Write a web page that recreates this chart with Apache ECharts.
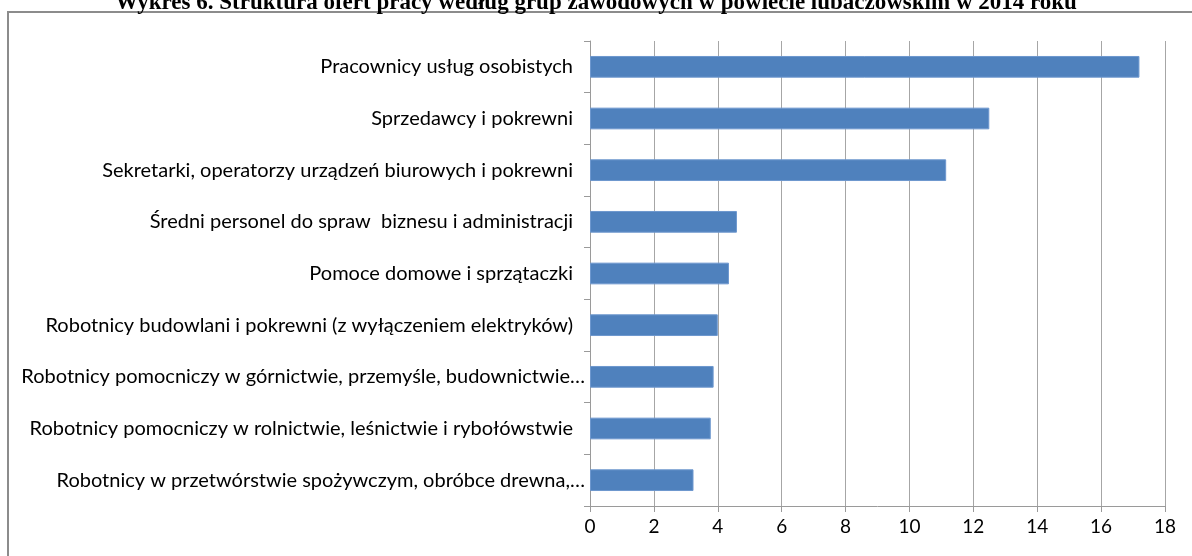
<!DOCTYPE html>
<html>
<head>
<meta charset="utf-8">
<script src="https://cdn.jsdelivr.net/npm/echarts@6/dist/echarts.min.js"></script>
<style>
  html, body { margin: 0; padding: 0; background: #fff; }
  #chart { width: 1192px; height: 556px; }
</style>
</head>
<body>
<div id="chart"></div>
<script>
  // kategorie od góry do dołu
  const categories = [
    'Pracownicy usług osobistych',
    'Sprzedawcy i pokrewni',
    'Sekretarki, operatorzy urządzeń biurowych i pokrewni',
    'Średni personel do spraw  biznesu i administracji',
    'Pomoce domowe i sprzątaczki',
    'Robotnicy budowlani i pokrewni (z wyłączeniem elektryków)',
    'Robotnicy pomocniczy w górnictwie, przemyśle, budownictwie…',
    'Robotnicy pomocniczy w rolnictwie, leśnictwie i rybołówstwie',
    'Robotnicy w przetwórstwie spożywczym, obróbce drewna,…'
  ]
  const values = [17.2, 12.5, 11.15, 4.6, 4.35, 4.0, 3.87, 3.78, 3.24]
  const xTicks = [0, 2, 4, 6, 8, 10, 12, 14, 16, 18]

  const title = 'Wykres 6. Struktura ofert pracy według grup zawodowych w powiecie lubaczowskim w 2014 roku'

  const chart = echarts.init(document.getElementById('chart'))
  chart.setOption({
    animation: false,
    title: {
      text: title,
      left: 'center',
      top: -13,
      textStyle: {
        fontFamily: 'Liberation Serif',
        fontWeight: 'bold',
        fontSize: 23,
        color: '#000'
      }
    },
    graphic: [{
      type: 'rect',
      shape: {x: 8, y: 12, width: 1200, height: 600},
      style: {fill: 'none', stroke: '#8c8c8c', lineWidth: 2},
      z: -1
    }],
    grid: {
      left: 590,
      right: 1192 - 1165,
      top: 41,
      bottom: 556 - 506
    },
    xAxis: {
      type: 'value',
      min: xTicks[0],
      max: xTicks[xTicks.length - 1],
      interval: 2,
      axisLine: {show: true, lineStyle: {color: '#9a9a9a', width: 1}},
      axisTick: {show: true, length: 6, lineStyle: {color: '#9a9a9a'}},
      splitLine: {show: true, lineStyle: {color: '#a6a6a6', width: 1}},
      axisLabel: {
        margin: 11,
        fontFamily: 'Lato',
        fontSize: 19,
        color: '#000'
      }
    },
    yAxis: {
      type: 'category',
      inverse: true,
      data: categories,
      axisLine: {show: true, lineStyle: {color: '#9a9a9a', width: 1}},
      axisTick: {show: true, length: 6, lineStyle: {color: '#9a9a9a'}},
      axisLabel: {
        margin: 5,
        color: '#000',
        formatter: function (v) {
          return v.endsWith('…') ? '{t|' + v + '}' : '{p|' + v + '}'
        },
        rich: {
          t: {fontFamily: 'Lato', fontSize: 20, color: '#000', padding: [0, 0, 0, 0]},
          p: {fontFamily: 'Lato', fontSize: 20, color: '#000', padding: [0, 12, 0, 0]}
        }
      }
    },
    series: [{
      type: 'bar',
      data: values,
      barCategoryGap: '58%',
      itemStyle: {
        color: '#4f81bd',
        borderColor: '#6e98cf',
        borderWidth: 1
      }
    }]
  })
</script>
</body>
</html>
